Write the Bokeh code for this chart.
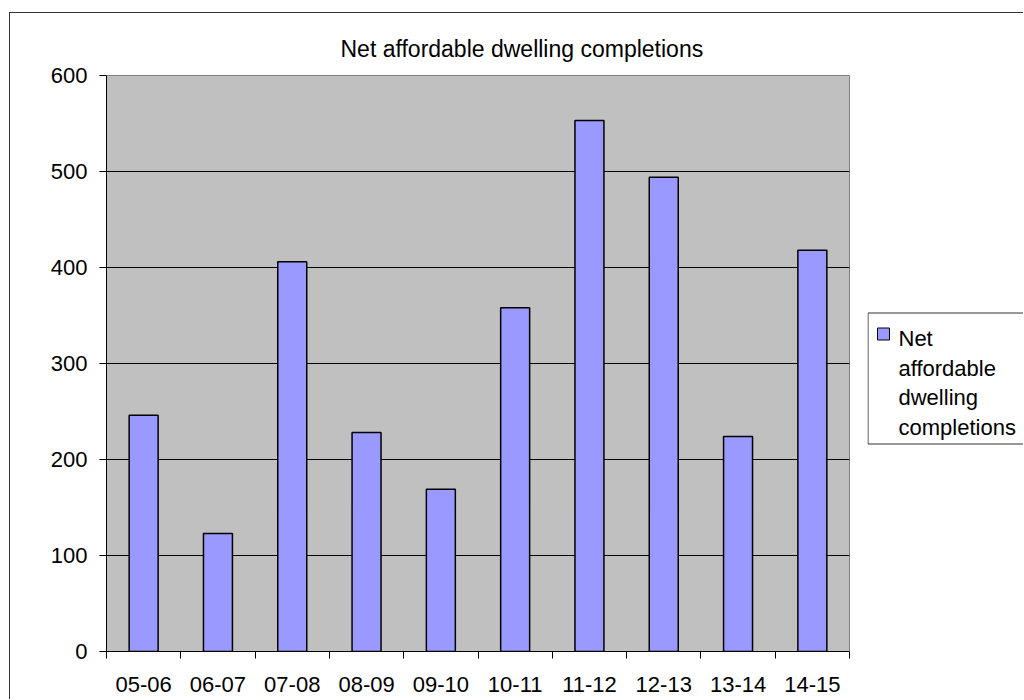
from bokeh.plotting import figure
from bokeh.layouts import row
from bokeh.models import FixedTicker, Range1d
from bokeh.core.properties import value
from bokeh.embed import file_html
from bokeh.resources import INLINE

categories = ["05-06", "06-07", "07-08", "08-09", "09-10", "10-11", "11-12", "12-13", "13-14", "14-15"]
values = [246, 123, 406, 228, 169, 358, 553, 494, 224, 418]
y_ticks = [0, 100, 200, 300, 400, 500, 600]
title_text = "Net affordable dwelling completions"
legend_lines = ["Net", "affordable", "dwelling", "completions"]

FONT = "Liberation Sans"
FS = "22px"
H = 686
TOP, BOTTOM = 62, 48

# ---------------- main chart ----------------
p = figure(width=857, height=H, output_backend="svg", toolbar_location=None,
           x_range=Range1d(0, len(categories)), y_range=Range1d(0, 600),
           min_border_left=96, min_border_top=TOP, min_border_right=18, min_border_bottom=BOTTOM)
p.background_fill_color = "#C0C0C0"
p.border_fill_color = "white"
p.outline_line_color = "#808080"
p.outline_line_width = 1

p.title.text = title_text
p.title.align = "left"
p.title.offset = 234
p.title.text_font = FONT
p.title.text_font_size = "23px"
p.title.text_font_style = "normal"
p.title.text_color = "black"
p.title.standoff = 28

xs = [i + 0.5 for i in range(len(categories))]
p.vbar(x=xs, top=values, width=0.39, bottom=0, fill_color="#9999FF",
       line_color="black", line_width=1.5)

p.xaxis.ticker = FixedTicker(ticks=xs, minor_ticks=list(range(len(categories) + 1)))
p.xaxis.major_label_overrides = {x: c for x, c in zip(xs, categories)}
p.xaxis.major_tick_out = 0
p.xaxis.major_tick_in = 0
p.xaxis.minor_tick_out = 7
p.xaxis.minor_tick_in = 0
p.xaxis.minor_tick_line_color = "black"
p.xaxis.axis_line_color = "black"
p.xaxis.major_label_standoff = 18
p.xaxis.major_label_text_font = FONT
p.xaxis.major_label_text_font_size = FS
p.xaxis.major_label_text_color = "black"

p.yaxis.ticker = FixedTicker(ticks=y_ticks, minor_ticks=[])
p.yaxis.major_tick_out = 7
p.yaxis.major_tick_in = 0
p.yaxis.major_tick_line_color = "black"
p.yaxis.axis_line_color = "black"
p.yaxis.major_label_standoff = 12
p.yaxis.major_label_text_font = FONT
p.yaxis.major_label_text_font_size = FS
p.yaxis.major_label_text_color = "black"

p.xgrid.visible = False
p.ygrid.ticker = FixedTicker(ticks=y_ticks[1:-1])
p.ygrid.grid_line_color = "black"
p.ygrid.grid_line_width = 1

# ---------------- legend panel (page-pixel-unit figure) ----------------
LW = 156
# frame of this panel is aligned with the main frame (page y 76..652)
lg = figure(width=LW, height=H, output_backend="svg", toolbar_location=None,
            x_range=Range1d(868, 868 + LW), y_range=Range1d(14 + H - BOTTOM, 14 + TOP),
            x_axis_type=None, y_axis_type=None,
            min_border=0, min_border_left=0, min_border_right=0,
            min_border_top=TOP, min_border_bottom=BOTTOM)
lg.title = None
lg.outline_line_color = None
lg.background_fill_color = "white"
lg.border_fill_color = "white"
lg.grid.visible = False

lg.quad(left=[868.5], right=[1100], top=[313.5], bottom=[444.5],
        fill_color="white", line_color="#333333", line_width=1)
lg.quad(left=[878], right=[890], top=[328.5], bottom=[340.5],
        fill_color="#9999FF", line_color="black", line_width=1)
lg.text(x=[899] * len(legend_lines), y=[339.3 + i * 29.5 for i in range(len(legend_lines))],
        text=legend_lines, text_font=value(FONT), text_font_size=value(FS),
        text_color="black", text_baseline="alphabetic", text_align="left")

layout = row(p, lg, spacing=0,
             styles={"border-left": "1px solid #333333", "border-top": "1px solid #333333",
                     "margin-left": "9px", "margin-top": "12px"})

open("out.html", "w").write(file_html(layout, INLINE))
